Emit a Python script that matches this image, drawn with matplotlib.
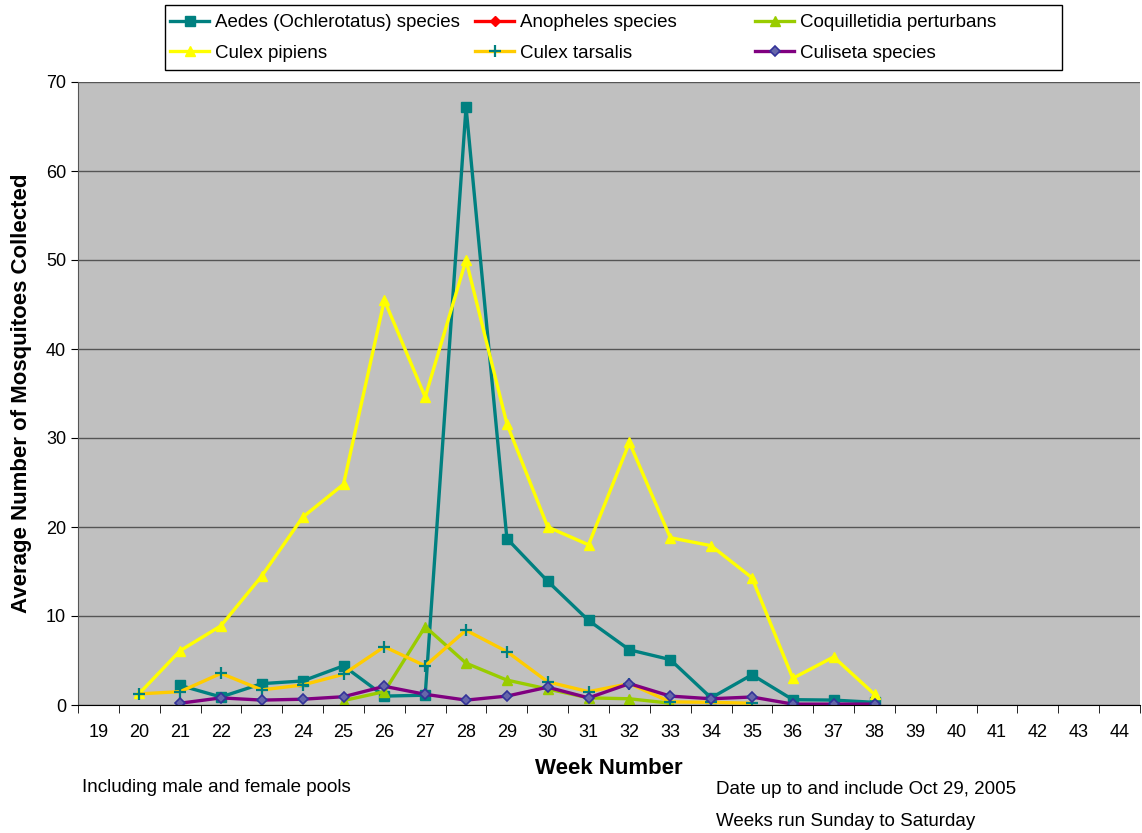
import numpy as np
import matplotlib
matplotlib.use("Agg")
import matplotlib.pyplot as plt
from matplotlib.patches import Rectangle

plt.rcParams['font.family'] = ['Liberation Sans', 'DejaVu Sans']

nan = np.nan
weeks = list(range(19, 45))
data_weeks = list(range(20, 39))

# valores (semanas 20..38)
aedes = [nan, 2.2, 0.9, 2.4, 2.7, 4.4, 1.0, 1.1, 67.2, 18.7, 13.9, 9.5, 6.2, 5.1, 0.8, 3.4, 0.6, 0.55, 0.3]
anopheles = [nan] * 19
coquilletidia = [nan, nan, nan, nan, nan, 0.5, 1.5, 8.8, 4.7, 2.8, 1.8, 0.8, 0.7, 0.2, nan, nan, nan, nan, nan]
pipiens = [1.3, 6.1, 8.9, 14.5, 21.1, 24.8, 45.5, 34.6, 50.0, 31.6, 20.0, 18.0, 29.5, 18.8, 17.9, 14.3, 3.0, 5.4, 1.2]
tarsalis = [1.25, 1.5, 3.55, 1.7, 2.25, 3.45, 6.55, 4.4, 8.4, 6.0, 2.6, 1.5, 2.4, 0.35, 0.3, 0.2, nan, nan, nan]
culiseta = [nan, 0.2, 0.8, 0.55, 0.65, 0.93, 2.1, 1.2, 0.55, 1.0, 2.0, 0.8, 2.4, 1.0, 0.7, 0.9, 0.1, 0.1, 0.1]

fig = plt.figure(figsize=(11.42, 8.33), dpi=100)
ax = fig.add_axes([78 / 1142, 1 - 705 / 833, 1062 / 1142, 623 / 833])
ax.set_facecolor('#C0C0C0')

lw = 2.4
l1, = ax.plot(data_weeks, aedes, color='#008080', lw=lw, marker='s', ms=6.5, label='Aedes (Ochlerotatus) species')
l2, = ax.plot(data_weeks, anopheles, color='#FF0000', lw=lw, marker='D', ms=5, label='Anopheles species')
l3, = ax.plot(data_weeks, coquilletidia, color='#99CC00', lw=lw, marker='^', ms=7.5, label='Coquilletidia perturbans')
l4, = ax.plot(data_weeks, pipiens, color='#FFFF00', lw=lw, marker='^', ms=7.5, label='Culex pipiens')
l5, = ax.plot(data_weeks, tarsalis, color='#FFCC00', lw=lw, marker='+', ms=9, mew=1.6, mec='#008080', label='Culex tarsalis')
l6, = ax.plot(data_weeks, culiseta, color='#800080', lw=lw, marker='D', ms=5.5, mfc='#6666AA', mec='#333399', mew=1.2, label='Culiseta species')

ax.set_xlim(18.5, 44.5)
ax.set_ylim(0, 70)
ax.set_yticks(range(0, 71, 10))
ax.set_xticks(weeks)
ax.set_xticks(np.arange(18.5, 45, 1), minor=True)
ax.tick_params(axis='x', which='major', length=0, labelsize=13, pad=14)
ax.tick_params(axis='x', which='minor', length=6, direction='out', color='black')
ax.tick_params(axis='y', labelsize=13, length=5, direction='out')
ax.yaxis.grid(True, color='#555555', lw=1)
ax.set_axisbelow(True)
for s in ['top', 'right']:
    ax.spines[s].set_visible(False)
ax.spines['left'].set_color('#555555')
ax.spines['bottom'].set_color('black')

ax.set_ylabel('Average Number of Mosquitoes Collected', fontsize=16, fontweight='bold', labelpad=10)
ax.set_xlabel('Week Number', fontsize=16, fontweight='bold', labelpad=12)

fig.text(82 / 1142, 1 - 788 / 833, 'Including male and female pools', fontsize=13.5, va='center')
fig.text(716 / 1142, 1 - 790 / 833, 'Date up to and include Oct 29, 2005', fontsize=13.5, va='center')
fig.text(716 / 1142, 1 - 822 / 833, 'Weeks run Sunday to Saturday', fontsize=13.5, va='center')

# leyenda en tres columnas con marco
fig.patches.append(Rectangle((165 / 1142, 1 - 70 / 833), 897 / 1142, 65 / 833,
                             transform=fig.transFigure, fill=False, ec='black', lw=1))
cols = [([l1, l4], 170), ([l2, l5], 475), ([l3, l6], 755)]
for handles, x0 in cols:
    leg = fig.legend(handles=handles, loc='upper left', bbox_to_anchor=(x0 / 1142, 1 - 14 / 833),
                     frameon=False, fontsize=13.5, borderpad=0, handlelength=2.1, handletextpad=0.3,
                     labelspacing=0.72, borderaxespad=0)

fig.savefig('out.png', dpi=100)
